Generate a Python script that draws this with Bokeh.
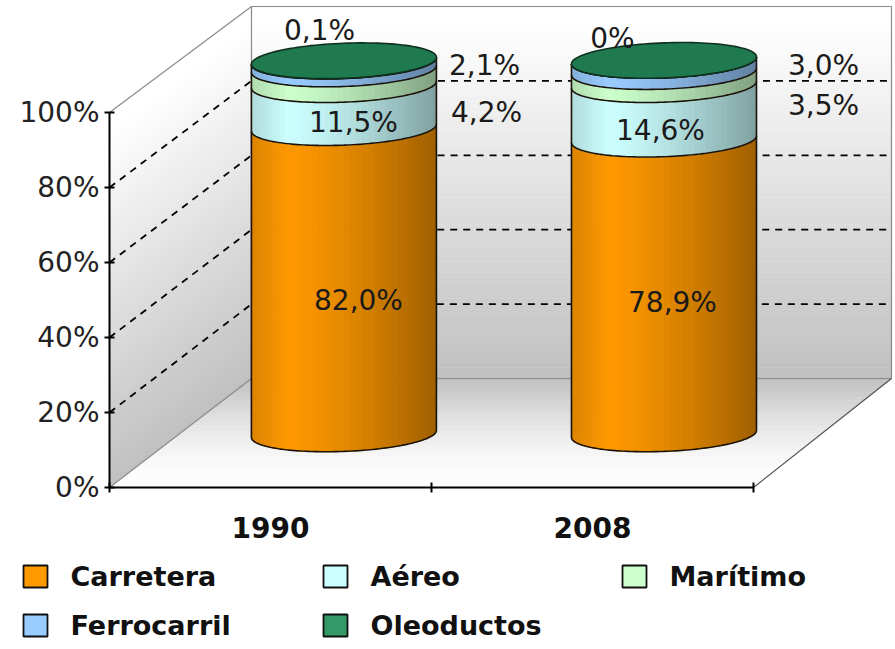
import math
from bokeh.plotting import figure
from bokeh.models import LinearAxis, FixedTicker, Range1d
from bokeh.core.properties import value
from bokeh.embed import file_html
from bokeh.resources import INLINE

YEARS = ["1990", "2008"]
SERIES = ["Carretera", "Aéreo", "Marítimo", "Ferrocarril", "Oleoductos"]
CARRETERA = [82.0, 78.9]
AEREO = [11.5, 14.6]
MARITIMO = [4.2, 3.5]
FERROCARRIL = [2.1, 3.0]
OLEODUCTOS = [0.1, 0.0]
COLORS = ["#ff9900", "#ccffff", "#ccffcc", "#99ccff", "#339966"]
PCT_TICKS = [0, 20, 40, 60, 80, 100]
# where each value label sits, in page pixels, per series and year
LABEL_PX = [[(358, 300), (672, 302)], [(353, 122), (660, 130)], [(486, 112), (823, 105)],
            [(484, 65), (823, 65)], [(319, 30), (612, 38)]]
LEGEND_PX = [(23, 576), (323, 576), (622, 576), (23, 625), (323, 625)]

FONT = "DejaVu Sans"
W, H = 895, 649
PXX, PXY = 322.0, 3.75          # pixels per category unit / per percent


def X(px):
    return (px - 109) / PXX


def Y(py):
    return (487 - py) / PXY


p = figure(width=W, height=H, output_backend="svg", toolbar_location=None,
           x_range=Range1d(X(0), X(W)), y_range=Range1d(Y(H), Y(0)),
           x_axis_location=None, y_axis_location=None, min_border=0,
           outline_line_color=None, background_fill_color="white",
           styles={"position": "absolute", "left": "0px", "top": "0px"})
p.grid.visible = False

DX, DY = X(251) - X(109), Y(378) - Y(487)   # depth vector
XEND = X(891)
SCALE = 0.992


def grey(level):
    v = int(round(level))
    return "#%02x%02x%02x" % (v, v, v)


# ---- walls and floor, as thin bands
xs, ys, cs = [], [], []
N = 70
for i in range(N):
    a, b = i / N, (i + 1) / N
    ha, hb = 100 * a, 100 * b
    lev = 192 + (255 - 192) * min(1, (a / 0.95))
    # back wall
    xs.append([DX, XEND, XEND, DX])
    ys.append([DY + ha * SCALE, DY + ha * SCALE, DY + hb * SCALE, DY + hb * SCALE])
    cs.append(grey(lev))
    # left wall
    xs.append([0, DX, DX, 0])
    ys.append([ha, DY + ha * SCALE, DY + hb * SCALE, hb])
    cs.append(grey(lev))
    # floor
    lev2 = 255 - (255 - 190) * (a ** 1.6)
    xs.append([DX * a, 2 + (XEND - 2) * a, 2 + (XEND - 2) * b, DX * b])
    ys.append([DY * a, DY * a, DY * b, DY * b])
    cs.append(grey(lev2))
p.patches(xs, ys, fill_color=cs, line_color=cs, line_width=0.6)

# ---- dashed gridlines on walls
for t in PCT_TICKS[1:-1]:
    p.line([0, DX, XEND], [t, DY + t * SCALE, DY + t * SCALE],
           line_color="black", line_width=1.8, line_dash="7 6")

# ---- wall outlines
EDGE = "#8a8a8a"
p.multi_line([[0, DX], [0, DX], [DX, DX], [DX, XEND], [XEND, XEND], [DX, XEND], [2, XEND]],
             [[0, DY], [100, DY + 100 * SCALE], [DY, DY + 100 * SCALE],
              [DY + 100 * SCALE] * 2, [DY, DY + 100 * SCALE], [DY, DY], [0, DY]],
             line_color=[EDGE] * 5 + ["#8a8a8a", "#555555"], line_width=1.2)

# ---- cylinders
CX, CY = [0.228, 0.222], 14.3
CYL_SCALE = 0.996
RX, RY, SHEAR = 92.5 / PXX, 17.5 / PXY, 3.5 / PXY
STACK = [CARRETERA, AEREO, MARITIMO, FERROCARRIL, OLEODUCTOS]
STRIPS = 46


def rgb(hexc):
    return tuple(int(hexc[i:i + 2], 16) for i in (1, 3, 5))


def shade(hexc, u):
    t = (u + 1) / 2
    if t < 0.2:
        f = 0.86 + 0.14 * t / 0.2
    else:
        f = 1 - 0.37 * ((t - 0.2) / 0.8) ** 1.3
    return "#%02x%02x%02x" % tuple(int(c * f) for c in rgb(hexc))


def arc(cx, h, n=80):
    out_x, out_y = [], []
    for k in range(n + 1):
        th = math.pi * k / n
        u = -math.cos(th)
        out_x.append(cx + RX * u)
        out_y.append(h + SHEAR * u - RY * math.sin(th))
    return out_x, out_y


for j in range(len(YEARS)):
    cx = j + 0.5 + CX[j]
    base = CY
    sx, sy, sc, lx, ly = [], [], [], [], []
    ax, ay = arc(cx, base)
    lx.append(ax)
    ly.append(ay)
    top = base
    for s, vals in enumerate(STACK):
        bot = top
        top = bot + vals[j] * CYL_SCALE
        for k in range(STRIPS):
            t0, t1 = math.pi * k / STRIPS, math.pi * (k + 1) / STRIPS
            u0, u1 = -math.cos(t0), -math.cos(t1)
            yb0 = SHEAR * u0 - RY * math.sin(t0)
            yb1 = SHEAR * u1 - RY * math.sin(t1)
            sx.append([cx + RX * u0, cx + RX * u1, cx + RX * u1, cx + RX * u0])
            sy.append([bot + yb0, bot + yb1, top + yb1, top + yb0])
            sc.append(shade(COLORS[s], (u0 + u1) / 2))
        ax, ay = arc(cx, top)
        lx.append(ax)
        ly.append(ay)
    p.patches(sx, sy, fill_color=sc, line_color=sc, line_width=1)
    # side edges
    lx.append([cx - RX, cx - RX])
    ly.append([base - SHEAR, top - SHEAR])
    lx.append([cx + RX, cx + RX])
    ly.append([base + SHEAR, top + SHEAR])
    p.multi_line(lx, ly, line_color="#1a1208", line_width=1.6)
    # top face
    tx, ty = [], []
    for k in range(121):
        th = 2 * math.pi * k / 120
        tx.append(cx + RX * math.cos(th))
        ty.append(top + SHEAR * math.cos(th) + RY * math.sin(th))
    p.patch(tx, ty, fill_color="#1f7a50", line_color="#10301f", line_width=1.6)

# ---- axes through the library
yaxis = LinearAxis(fixed_location=0, bounds=(0, 100), ticker=FixedTicker(ticks=PCT_TICKS),
                   major_label_overrides={t: f"{t}%" for t in PCT_TICKS},
                   axis_line_color="black", axis_line_width=2, major_tick_line_color="black",
                   major_tick_line_width=2, major_tick_in=5, major_tick_out=5, minor_tick_line_color=None,
                   major_label_text_font=FONT, major_label_text_font_size="28px",
                   major_label_text_color="#222222", major_label_standoff=5)
p.add_layout(yaxis, "left")
xaxis = LinearAxis(fixed_location=0, bounds=(0, 2), ticker=FixedTicker(ticks=[0, 1, 2]),
                   major_label_overrides={0: "", 1: "", 2: ""},
                   axis_line_color="black", axis_line_width=2, major_tick_line_color="black",
                   major_tick_line_width=2, major_tick_in=5, major_tick_out=5, minor_tick_line_color=None)
p.add_layout(xaxis, "below")
xlab = LinearAxis(fixed_location=0, ticker=FixedTicker(ticks=[0.5, 1.5]),
                  major_label_overrides={0.5: YEARS[0], 1.5: YEARS[1]},
                  axis_line_color=None, major_tick_line_color=None, minor_tick_line_color=None,
                  major_label_text_font=FONT, major_label_text_font_size="28px",
                  major_label_text_font_style="bold",
                  major_label_text_color="#111111", major_label_standoff=23)
p.add_layout(xlab, "below")

# ---- value labels
for s, vals in enumerate(STACK):
    for j, v in enumerate(vals):
        txt = "0%" if v == 0 else f"{v:.1f}%".replace(".", ",")
        px, py = LABEL_PX[s][j]
        p.text([X(px)], [Y(py)], text=[txt], text_align="center", text_baseline="middle",
               text_font=value(FONT), text_font_size="28px", text_color="#1a1a1a")

# ---- legend
for name, col, (px, py) in zip(SERIES, COLORS, LEGEND_PX):
    p.quad(left=[X(px)], right=[X(px + 24)], bottom=[Y(py + 11)], top=[Y(py - 11)],
           fill_color=col, line_color="#101010", line_width=1.8)
    p.text([X(px + 47)], [Y(py)], text=[name], text_align="left", text_baseline="middle",
           text_font=value(FONT), text_font_size="27px", text_font_style="bold", text_color="#111111")

open("out.html", "w").write(file_html(p, INLINE))
